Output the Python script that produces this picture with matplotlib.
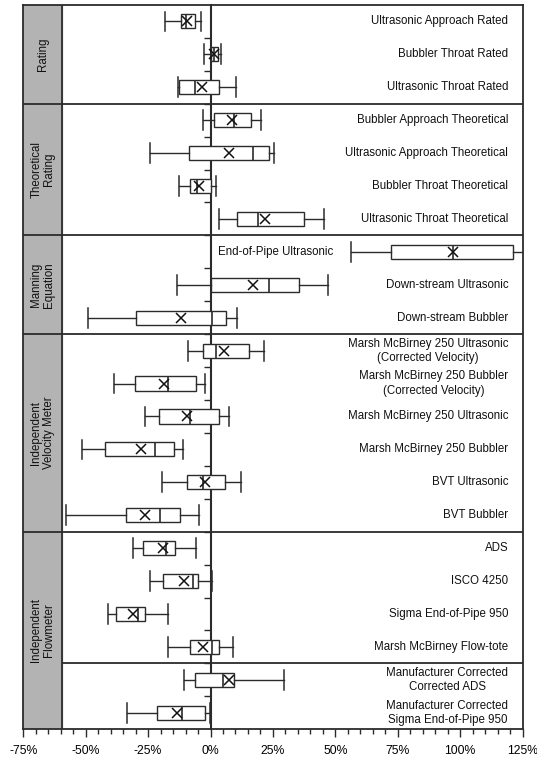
import matplotlib
matplotlib.use('Agg')
import matplotlib.pyplot as plt
from matplotlib.ticker import MultipleLocator

plt.rcParams['font.family'] = ['Liberation Sans', 'DejaVu Sans']

# one entry per row, top to bottom (values in % error)
labels = [
    'Ultrasonic Approach Rated', 'Bubbler Throat Rated', 'Ultrasonic Throat Rated',
    'Bubbler Approach Theoretical', 'Ultrasonic Approach Theoretical',
    'Bubbler Throat Theoretical', 'Ultrasonic Throat Theoretical',
    'End-of-Pipe Ultrasonic', 'Down-stream Ultrasonic', 'Down-stream Bubbler',
    'Marsh McBirney 250 Ultrasonic\n(Corrected Velocity)',
    'Marsh McBirney 250 Bubbler\n(Corrected Velocity)',
    'Marsh McBirney 250 Ultrasonic', 'Marsh McBirney 250 Bubbler',
    'BVT Ultrasonic', 'BVT Bubbler',
    'ADS', 'ISCO 4250', 'Sigma End-of-Pipe 950', 'Marsh McBirney Flow-tote',
    'Manufacturer Corrected\nCorrected ADS',
    'Manufacturer Corrected\nSigma End-of-Pipe 950',
]
whislo = [-18.3, -2.7, -13.1, -2.9, -24.3, -12.7, 3.3, 56.1, -13.6, -49.1,
          -9.1, -38.7, -26.3, -51.3, -19.5, -58.0,
          -31.0, -24.4, -41.0, -17.1, -10.7, -33.4]
q1 = [-12.0, 0.3, -12.5, 1.6, -8.6, -8.4, 10.7, 72.2, 0.0, -30.0,
      -2.9, -30.3, -20.8, -42.4, -9.3, -34.0,
      -27.0, -19.1, -37.8, -8.4, -6.2, -21.4]
med = [-10.0, 1.5, -6.4, 9.3, 17.1, -5.5, 19.1, 97.0, 23.3, 0.7,
       2.3, -17.0, -8.4, -22.3, -2.9, -20.3,
       -18.0, -7.0, -29.0, 0.7, 5.0, -11.4]
q3 = [-6.4, 3.0, 3.3, 16.1, 23.5, 0.0, 37.6, 121.0, 35.6, 6.4,
      15.6, -5.9, 3.3, -14.6, 6.0, -12.4,
      -14.4, -5.1, -26.4, 3.6, 9.6, -2.3]
whishi = [-4.0, 4.4, 10.3, 20.4, 25.6, 2.4, 45.6, 130.0, 46.9, 10.7,
          21.6, -2.3, 7.6, -11.1, 12.4, -4.7,
          -5.9, 0.4, -17.2, 8.9, 29.3, -0.4]
means = [-9.6, 1.6, -3.3, 8.7, 7.6, -4.7, 21.7, 97.1, 17.1, -12.0,
         5.6, -18.7, -9.3, -28.0, -2.4, -26.3,
         -19.1, -10.8, -31.0, -2.9, 7.3, -13.4]

groups = ['Rating', 'Theoretical\nRating', 'Manning\nEquation',
          'Independent\nVelocity Meter', 'Independent\nFlowmeter']
group_sizes = [3, 4, 3, 6, 6]
xticks = [-75, -50, -25, 0, 25, 50, 75, 100, 125]

n = len(labels)
panel_edge = -59.4
dark = '#2b2b2b'

fig = plt.figure(figsize=(5.37, 7.61), dpi=100)
ax = fig.add_axes([0.0434, 0.0417, 0.9296, 0.9518])

stats = []
for i in range(n):
    stats.append(dict(label=labels[i], whislo=whislo[i], q1=q1[i], med=med[i],
                      q3=q3[i], whishi=whishi[i], mean=means[i], fliers=[]))

pos = [i + 0.5 for i in range(n)]
ax.bxp(stats, positions=pos, widths=0.43, capwidths=0.6,
       orientation='horizontal', showmeans=True, patch_artist=True,
       manage_ticks=False,
       boxprops=dict(facecolor='white', edgecolor=dark, linewidth=1.0),
       whiskerprops=dict(color=dark, linewidth=1.0),
       capprops=dict(color=dark, linewidth=1.1),
       medianprops=dict(color=dark, linewidth=1.2),
       meanprops=dict(marker='x', markeredgecolor='#111111',
                      markersize=7, markeredgewidth=1.1))

ax.set_xlim(-75, 125)
ax.set_ylim(n, 0)

# row labels
for i in range(n):
    lx = 119.3 if whishi[i] < 100 else whislo[i] - 7
    ax.text(lx, pos[i], labels[i], ha='right', va='center',
            multialignment='center', fontsize=8.3, color='#111111',
            linespacing=1.25)

# grey group panel and separators
ax.axvspan(-75, panel_edge, color='#b3b3b3', zorder=0)
ax.axvline(panel_edge, color=dark, lw=1.3, zorder=3)
start = 0
for g, size in zip(groups, group_sizes):
    ax.text((-75 + panel_edge) / 2, start + size / 2, g, rotation=90,
            ha='center', va='center', fontsize=8.3, color='#111111',
            linespacing=1.1)
    start += size
    if start < n:
        ax.hlines(start, -75, 125, color=dark, lw=1.3, zorder=3)
ax.hlines(20, panel_edge, 125, color=dark, lw=1.3, zorder=3)

# zero line with small ticks at row boundaries
sec = ax.secondary_yaxis((0 + 75) / 200)
sec.set_yticks(list(range(1, n)))
sec.tick_params(length=5, width=1, direction='out', labelleft=False,
                color=dark)
sec.spines['left'].set_linewidth(1.5)
sec.spines['left'].set_color(dark)
sec.set_zorder(1)

ax.set_yticks([])
ax.set_xticks(xticks)
ax.set_xticklabels([f'{v}%' for v in xticks])
ax.xaxis.set_minor_locator(MultipleLocator(5))
ax.tick_params(axis='x', which='major', length=6, width=1, color=dark,
               labelsize=8.8, pad=5)
ax.tick_params(axis='x', which='minor', length=3.5, width=1, color=dark)
for s in ax.spines.values():
    s.set_linewidth(1.3)
    s.set_color(dark)

plt.savefig('out.png', dpi=100)
